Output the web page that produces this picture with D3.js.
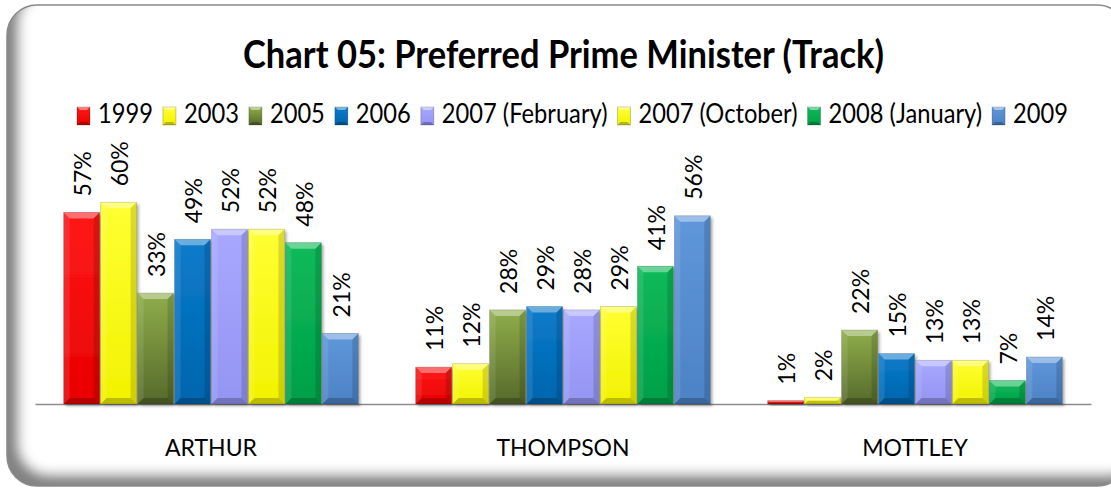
<!DOCTYPE html>
<html>
<head>
<meta charset="utf-8">
<script src="https://cdn.jsdelivr.net/npm/d3@7/dist/d3.min.js"></script>
<style>
  html, body { margin: 0; padding: 0; background: #fff; }
  svg { display: block; }
  text { font-family: Lato, "Open Sans", "DejaVu Sans", sans-serif; fill: #000; }
</style>
</head>
<body>
<svg id="chart" width="1111" height="489"></svg>
<script>
// Preferred Prime Minister tracking poll, share of respondents (%)
const categories = ["ARTHUR", "THOMPSON", "MOTTLEY"];
const series = ["1999", "2003", "2005", "2006", "2007 (February)", "2007 (October)", "2008 (January)", "2009"];
const arthur   = [57, 60, 33, 49, 52, 52, 48, 21];
const thompson = [11, 12, 28, 29, 28, 29, 41, 56];
const mottley  = [1, 2, 22, 15, 13, 13, 7, 14];
const seriesColors = ["#FF0000", "#FFFF00", "#77933C", "#0070C0", "#A0A0FF", "#FFFF00", "#00B050", "#558ED5"];
const seriesColorsTop = ["#FF1A1A", "#FFFF33", "#8FAE4A", "#0A7BCB", "#A8A8FF", "#FFFF33", "#0DBA5A", "#5F97DB"];
const seriesColorsBottom = ["#E80000", "#F2F200", "#55692B", "#0065AD", "#9494F2", "#F2F200", "#00A048", "#4C82C6"];
const chartTitle = "Chart 05: Preferred Prime Minister (Track)";

const valuesByCategory = [arthur, thompson, mottley];
const rows = categories.map((c, i) => ({
  category: c,
  values: series.map((s, j) => ({ series: s, index: j, value: valuesByCategory[i][j] }))
}));

const svg = d3.select("#chart");
const defs = svg.append("defs");

// inset shadow for the rounded chart frame (dark along the left and bottom edges)
const inset = defs.append("filter").attr("id", "insetShadow")
  .attr("x", "-5%").attr("y", "-5%").attr("width", "110%").attr("height", "110%");
inset.append("feOffset").attr("in", "SourceAlpha").attr("dx", 12).attr("dy", -12).attr("result", "off");
inset.append("feGaussianBlur").attr("in", "off").attr("stdDeviation", 6).attr("result", "blur");
inset.append("feComposite").attr("in", "SourceAlpha").attr("in2", "blur").attr("operator", "out").attr("result", "inv");
inset.append("feFlood").attr("flood-color", "#555").attr("flood-opacity", 0.85).attr("result", "col");
inset.append("feComposite").attr("in", "col").attr("in2", "inv").attr("operator", "in").attr("result", "shadow");
const im = inset.append("feMerge");
im.append("feMergeNode").attr("in", "SourceGraphic");
im.append("feMergeNode").attr("in", "shadow");

// soft drop shadow under bars
const drop = defs.append("filter").attr("id", "barShadow")
  .attr("x", "-20%").attr("y", "-20%").attr("width", "150%").attr("height", "150%");
drop.append("feGaussianBlur").attr("in", "SourceAlpha").attr("stdDeviation", 1.5).attr("result", "b");
drop.append("feOffset").attr("in", "b").attr("dx", 2).attr("dy", 2).attr("result", "o");
drop.append("feComponentTransfer").attr("in", "o").attr("result", "oa")
  .append("feFuncA").attr("type", "linear").attr("slope", 0.35);
const dm = drop.append("feMerge");
dm.append("feMergeNode").attr("in", "oa");
dm.append("feMergeNode").attr("in", "SourceGraphic");

// vertical gradient per series
seriesColors.forEach((c, i) => {
  const g = defs.append("linearGradient").attr("id", "grad" + i)
    .attr("x1", 0).attr("y1", 0).attr("x2", 0).attr("y2", 1);
  g.append("stop").attr("offset", "0%").attr("stop-color", seriesColorsTop[i]);
  g.append("stop").attr("offset", "100%").attr("stop-color", seriesColorsBottom[i]);
});

// frame
const frame = { x: 7, y: 5, w: 1120, h: 481, r: 30 };
svg.append("rect")
  .attr("x", frame.x).attr("y", frame.y).attr("width", frame.w).attr("height", frame.h)
  .attr("rx", frame.r).attr("ry", frame.r)
  .attr("fill", "#fff").attr("filter", "url(#insetShadow)");
svg.append("rect")
  .attr("x", frame.x).attr("y", frame.y).attr("width", frame.w).attr("height", frame.h)
  .attr("rx", frame.r).attr("ry", frame.r)
  .attr("fill", "none").attr("stroke", "#8a8a8a").attr("stroke-width", 1.5);

// title: condensed to the width of a narrow humanist face
const title = svg.append("text")
  .attr("x", 563.5).attr("y", 68)
  .attr("text-anchor", "middle")
  .style("font-weight", 700).style("font-size", "39px")
  .text(chartTitle);
title.attr("textLength", 641).attr("lengthAdjust", "spacingAndGlyphs");

// legend
const legend = svg.append("g");
const boxW = 13, boxH = 18, boxGap = 8, itemGap = 10;
const legendSpan = [77, 1068];
const items = series.map((s, i) => {
  const item = legend.append("g");
  item.append("rect").attr("x", 0).attr("y", -16).attr("width", boxW).attr("height", boxH)
    .attr("fill", `url(#grad${i})`).attr("stroke", "rgba(0,0,0,0.25)").attr("stroke-width", 0.8);
  item.append("path")
    .attr("d", `M0,-16 L${boxW},-16 L${boxW - 3},-13 L3,-13 Z`)
    .attr("fill", "rgba(255,255,255,0.45)");
  item.append("path")
    .attr("d", `M0,${boxH - 16} L${boxW},${boxH - 16} L${boxW - 3},${boxH - 19} L3,${boxH - 19} Z`)
    .attr("fill", "rgba(0,0,0,0.25)");
  const t = item.append("text").attr("x", boxW + boxGap).attr("y", 0)
    .style("font-size", "26px").text(s);
  return { item, t, w: t.node().getComputedTextLength() };
});
const fixed = series.length * (boxW + boxGap) + (series.length - 1) * itemGap;
const squeeze = (legendSpan[1] - legendSpan[0] - fixed) / d3.sum(items, d => d.w);
let cursor = 0;
items.forEach(d => {
  const w = d.w * squeeze;
  d.t.attr("textLength", w).attr("lengthAdjust", "spacingAndGlyphs");
  d.item.attr("transform", `translate(${cursor},0)`);
  cursor += boxW + boxGap + w + itemGap;
});
legend.attr("transform", `translate(${legendSpan[0]},123)`);

// scales
const x0 = d3.scaleBand().domain(categories).range([35, 1091]).paddingInner(0.16).paddingOuter(0.08);
const x1 = d3.scaleBand().domain(series).range([0, x0.bandwidth()]).padding(0);
const y = d3.scaleLinear().domain([0, 70]).range([404, 168.7]);

// category axis
const axis = svg.append("g").attr("transform", `translate(0,${y(0)})`)
  .call(d3.axisBottom(x0).tickSize(0).tickPadding(0));
axis.select(".domain").attr("stroke", "#8c8c8c").attr("stroke-width", 1.5);
axis.selectAll(".tick text")
  .attr("y", 52).attr("dy", 0)
  .style("font-family", "Lato, 'Open Sans', sans-serif")
  .style("font-size", "23px").attr("fill", "#000");

// bars
const groups = svg.append("g").selectAll("g").data(rows).join("g")
  .attr("transform", d => `translate(${x0(d.category)},0)`);

const bars = groups.selectAll("g.bar").data(d => d.values).join("g").attr("class", "bar");

bars.append("rect")
  .attr("x", d => x1(d.series) + 0.5)
  .attr("y", d => y(d.value))
  .attr("width", x1.bandwidth() - 1)
  .attr("height", d => y(0) - y(d.value))
  .attr("fill", d => `url(#grad${d.index})`)
  .attr("filter", "url(#barShadow)");

// bevel facets
function facets(d) {
  const x = x1(d.series) + 0.5, w = x1.bandwidth() - 1;
  const top = y(d.value), h = y(0) - top;
  const b = Math.min(6, h / 2);
  return [
    { p: [[x, top], [x + w, top], [x + w - b, top + b], [x + b, top + b]], f: "rgba(255,255,255,0.38)" },
    { p: [[x, top], [x + b, top + b], [x + b, top + h - b], [x, top + h]], f: "rgba(255,255,255,0.10)" },
    { p: [[x + w, top], [x + w - b, top + b], [x + w - b, top + h - b], [x + w, top + h]], f: "rgba(0,0,0,0.14)" },
    { p: [[x, top + h], [x + b, top + h - b], [x + w - b, top + h - b], [x + w, top + h]], f: "rgba(0,0,0,0.22)" }
  ];
}
bars.selectAll("path").data(d => facets(d)).join("path")
  .attr("d", f => "M" + f.p.map(q => q.join(",")).join("L") + "Z")
  .attr("fill", f => f.f);

bars.append("rect")
  .attr("x", d => x1(d.series) + 0.5)
  .attr("y", d => y(d.value))
  .attr("width", x1.bandwidth() - 1)
  .attr("height", d => y(0) - y(d.value))
  .attr("fill", "none").attr("stroke", "rgba(0,0,0,0.18)").attr("stroke-width", 0.8);

// value labels, rotated
bars.append("text")
  .attr("transform", d => `translate(${x1(d.series) + x1.bandwidth() / 2 + 1},${y(d.value) - 16}) rotate(-90)`)
  .attr("dy", "0.36em")
  .style("font-size", "23px")
  .text(d => d.value + "%");
</script>
</body>
</html>
